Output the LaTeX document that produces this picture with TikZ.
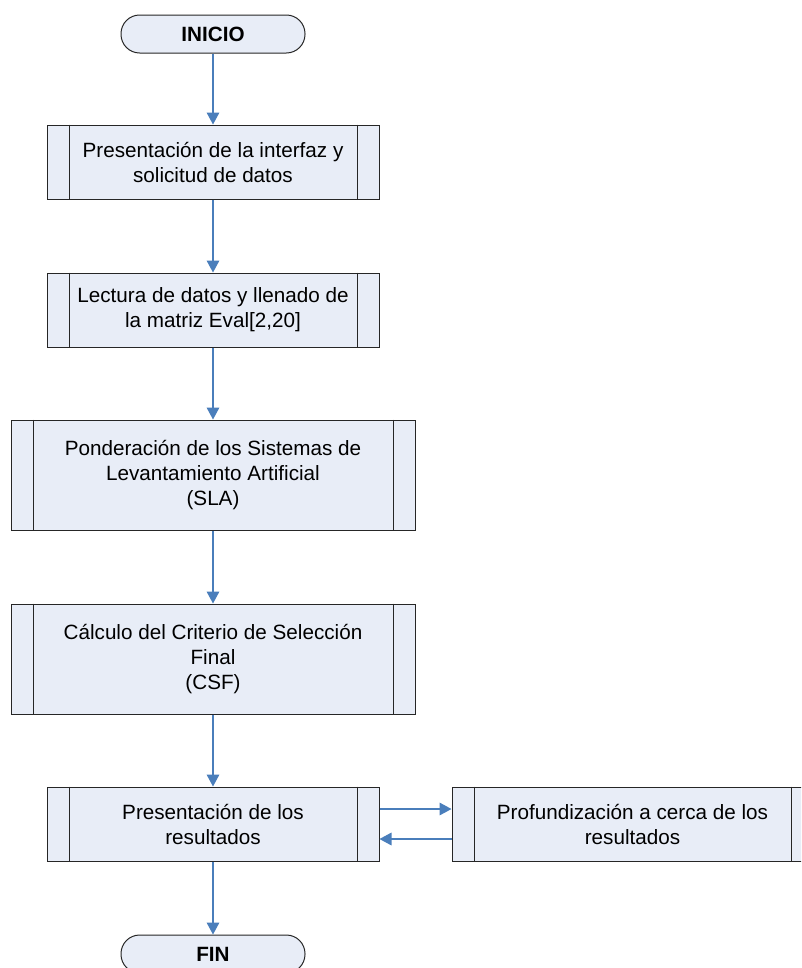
\documentclass[tikz,border=0pt]{standalone}
\usepackage{fontspec}
\setmainfont{Liberation Sans}
\usetikzlibrary{arrows.meta,calc}
\definecolor{boxfill}{HTML}{E8EDF7}
\definecolor{arrowblue}{HTML}{4A7EBB}
\begin{document}
\begin{tikzpicture}[x=0.75pt,y=-0.75pt,
  font=\fontsize{15.5pt}{18.75pt}\selectfont,
  proc/.style={draw=black!85, fill=boxfill, line width=0.75pt, align=center, inner sep=0pt},
  small/.style={minimum width=249pt, minimum height=55.5pt},
  big/.style={minimum width=303pt, minimum height=82.5pt},
  term/.style={draw=black!85, fill=boxfill, line width=0.75pt, rounded corners=14pt,
    minimum width=138pt, minimum height=28.5pt, inner sep=0pt,
    font=\fontsize{15.5pt}{18.75pt}\selectfont\bfseries},
  arr/.style={draw=arrowblue, line width=0.9pt, -{Triangle[width=9.5pt,length=9pt]}},
  side/.style={draw=black!85, line width=0.75pt}
]
\useasboundingbox (0,0) rectangle (801,968);
\clip (0,0) rectangle (801,968);

\node[term] (ini) at (213,34) {INICIO};
\node[proc,small] (b1) at (213,162) {Presentación de la interfaz y\\solicitud de datos};
\node[proc,small] (b2) at (213,310) {Lectura de datos y llenado de\\la matriz Eval[2,20]};
\node[proc,big] (b3) at (213,475) {Ponderación de los Sistemas de\\Levantamiento Artificial\\(SLA)};
\node[proc,big] (b4) at (213,659) {Cálculo del Criterio de Selección\\Final\\(CSF)};
\node[proc,small] (b5) at (213,824) {Presentación de los\\resultados};
\node[proc,minimum width=270.75pt,minimum height=55.5pt] (b6) at (632.5,824) {Profundización a cerca de los\\resultados};
\node[term] (fin) at (213,954) {FIN};

\foreach \n in {b1,b2,b3,b4,b5,b6}{
  \draw[side] ($(\n.north west)+(22.5,0)$) -- ($(\n.south west)+(22.5,0)$);
  \draw[side] ($(\n.north east)+(-22.5,0)$) -- ($(\n.south east)+(-22.5,0)$);
}

\draw[arr] (ini) -- (b1);
\draw[arr] (b1) -- (b2);
\draw[arr] (b2) -- (b3);
\draw[arr] (b3) -- (b4);
\draw[arr] (b4) -- (b5);
\draw[arr] (b5) -- (fin);
\draw[arr] ($(b5.east)+(0,-15)$) -- ($(b6.west)+(0,-15)$);
\draw[arr] ($(b6.west)+(0,15)$) -- ($(b5.east)+(0,15)$);
\end{tikzpicture}
\end{document}
